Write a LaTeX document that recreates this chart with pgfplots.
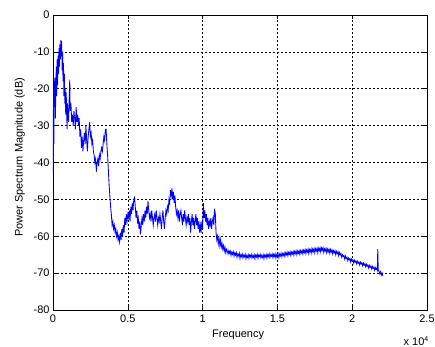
\documentclass[border=0pt]{standalone}
\usepackage{pgfplots}
\pgfplotsset{compat=1.18}
\usepackage{fontspec}
\setmainfont{Liberation Sans}
\begin{document}
\begin{tikzpicture}
\begin{axis}[
 width=374bp, height=295bp, scale only axis,
 xmin=0, xmax=25000, ymin=-80, ymax=0,
 scaled x ticks=false,
 xtick={0,5000,10000,15000,20000,25000},
 xticklabels={0,0.5,1,1.5,2,2.5},
 ytick={-80,-70,...,0},
 grid=major,
 major grid style={black, dash pattern=on 2bp off 2bp, line width=0.5bp},
 axis line style={black, line width=0.7bp},
 tick style={black, line width=0.5bp},
 major tick length=4bp,
 tick align=inside,
 ticklabel style={font=\fontsize{11}{13}\selectfont},
 xticklabel style={yshift=-1.5bp},
 /pgf/number format/assume math mode=true,
 xlabel={Frequency}, ylabel={Power Spectrum Magnitude (dB)},
 label style={font=\fontsize{11}{13}\selectfont},
 xlabel style={at={(axis description cs:0.495,-0.0847)}, anchor=center},
 ylabel style={at={(axis description cs:-0.0885,0.517)}, anchor=center},
]
\addplot[blue, line width=0.85bp] coordinates {
(0,-43)(20,-30)(40,-20)(60,-35)(80,-18)(100,-25)(130,-17)(160,-28)(190,-20)(220,-14)
(250,-22)(280,-12)(310,-19)(340,-11)(370,-16)(400,-9)(430,-14)(460,-8)(490,-12)(520,-6.8)
(550,-11)(580,-7)(610,-15)(640,-10)(670,-18)(700,-13)(730,-22)(760,-16)(790,-24)(820,-20)
(850,-27)(880,-21)(910,-25)(940,-31)(970,-24)(1000,-27)(1040,-29)(1080,-23)(1120,-17.5)(1150,-26)
(1200,-24)(1250,-29)(1300,-27)(1350,-30)(1400,-26)(1450,-28)(1500,-31)(1550,-25)(1600,-29)(1650,-27)
(1700,-30)(1750,-28)(1800,-33)(1850,-31)(1900,-36)(1950,-33)(2000,-37)(2050,-34)(2100,-32)(2150,-35)
(2200,-30)(2250,-34)(2300,-37)(2350,-33)(2400,-31)(2450,-29)(2500,-33)(2550,-32)(2600,-35)(2650,-34)
(2700,-37)(2750,-38)(2800,-40)(2850,-39)(2900,-42.5)(2950,-40)(3000,-39)(3050,-41)(3100,-38)(3150,-39)
(3200,-37)(3250,-36)(3300,-37)(3350,-35)(3400,-33)(3450,-34)(3500,-31)(3550,-31)(3600,-35)(3650,-38)
(3700,-42)(3750,-46)(3800,-49)(3850,-52)(3900,-54)(3950,-57)(4000,-56)(4050,-58)(4100,-57)(4150,-59)
(4200,-58)(4250,-60)(4300,-59)(4350,-61)(4400,-60)(4450,-61.5)(4500,-59)(4550,-61)(4600,-58)(4650,-60)
(4700,-57)(4750,-59)(4800,-55)(4850,-57)(4900,-54)(4950,-56)(5000,-54)(5050,-55)(5100,-53)(5150,-56)
(5200,-52)(5250,-54)(5300,-51)(5350,-53)(5400,-50)(5450,-49.5)(5500,-52)(5550,-55)(5600,-53)(5650,-56)
(5700,-55)(5750,-58)(5800,-56)(5850,-59.5)(5900,-57)(5950,-55)(6000,-57)(6050,-54)(6100,-56)(6150,-53)
(6200,-55)(6250,-52)(6300,-54)(6350,-50.5)(6400,-53)(6450,-55)(6500,-54)(6550,-56)(6600,-53)(6650,-55)
(6700,-57)(6750,-55)(6800,-54)(6850,-56)(6900,-53)(6950,-55)(7000,-57)(7050,-55)(7100,-56)(7150,-54)
(7200,-56)(7250,-58)(7300,-55)(7350,-53)(7400,-56)(7450,-58)(7500,-55)(7550,-53)(7600,-54)(7650,-52)
(7700,-53)(7750,-50)(7800,-51)(7850,-47.5)(7900,-49)(7950,-47)(8000,-50)(8050,-48)(8100,-51)(8150,-49)
(8200,-52)(8250,-54)(8300,-53)(8350,-55)(8400,-53)(8450,-56)(8500,-54)(8550,-53)(8600,-55)(8650,-57)
(8700,-54)(8750,-56)(8800,-53)(8850,-55)(8900,-57)(8950,-55)(9000,-56)(9050,-54)(9100,-57)(9150,-55)
(9200,-59)(9250,-56)(9300,-54)(9350,-57)(9400,-55)(9450,-58)(9500,-56)(9550,-54)(9600,-57)(9650,-55)
(9700,-58)(9750,-56)(9800,-59)(9850,-57)(9900,-59)(9950,-56)(10000,-58)(10050,-51)(10100,-55)(10150,-53)
(10200,-56)(10250,-54)(10300,-57)(10350,-55)(10400,-58)(10450,-56)(10500,-57)(10550,-55)(10600,-58)(10650,-56)
(10700,-55)(10750,-57)(10800,-52.5)(10850,-54)(10900,-59)(10950,-61)(11000,-60)(11050,-62)(11100,-60.5)(11150,-62.5)
(11200,-61)(11250,-63)(11300,-62)(11350,-63.5)(11400,-62.5)(11450,-64)(11500,-63)(11550,-64.5)(11600,-63.5)(11650,-64)
(11700,-64.8)(11750,-63.9)(11800,-64.6)(11850,-64)(11900,-65.2)(11950,-64.3)(12000,-64.9)(12050,-64.2)(12100,-65.4)(12150,-64.5)
(12200,-65.1)(12250,-64.4)(12300,-65.7)(12350,-64.8)(12400,-65.3)(12450,-64.6)(12500,-66)(12550,-65)(12600,-65.5)(12650,-64.8)
(12700,-65.9)(12750,-65.1)(12800,-65.6)(12850,-64.9)(12900,-66.1)(12950,-65.2)(13000,-65.7)(13050,-65)(13100,-66)(13150,-65.1)
(13200,-65.6)(13250,-64.9)(13300,-65.9)(13350,-65.2)(13400,-65.7)(13450,-65)(13500,-66.1)(13550,-65.1)(13600,-65.6)(13650,-64.9)
(13700,-66)(13750,-65.1)(13800,-65.5)(13850,-64.9)(13900,-65.9)(13950,-65.2)(14000,-65.7)(14050,-65)(14100,-66.1)(14150,-65.1)
(14200,-65.6)(14250,-64.9)(14300,-65.9)(14350,-65)(14400,-65.5)(14450,-64.8)(14500,-65.8)(14550,-65)(14600,-65.4)(14650,-64.8)
(14700,-65.8)(14750,-64.9)(14800,-65.5)(14850,-64.8)(14900,-65.9)(14950,-65)(15000,-65.5)(15050,-64.8)(15100,-65.8)(15150,-64.8)
(15200,-65.3)(15250,-64.6)(15300,-65.6)(15350,-64.7)(15400,-65.2)(15450,-64.5)(15500,-65.5)(15550,-64.5)(15600,-65)(15650,-64.3)
(15700,-65.3)(15750,-64.4)(15800,-64.9)(15850,-64.2)(15900,-65.2)(15950,-64.3)(16000,-64.8)(16050,-64.1)(16100,-65.1)(16150,-64.1)
(16200,-64.7)(16250,-64)(16300,-65)(16350,-64)(16400,-64.6)(16450,-63.9)(16500,-64.9)(16550,-63.9)(16600,-64.5)(16650,-63.8)
(16700,-64.8)(16750,-63.8)(16800,-64.4)(16850,-63.6)(16900,-64.7)(16950,-63.7)(17000,-64.3)(17050,-63.5)(17100,-64.7)(17150,-63.6)
(17200,-64.2)(17250,-63.4)(17300,-64.6)(17350,-63.5)(17400,-64.1)(17450,-63.3)(17500,-64.5)(17550,-63.4)(17600,-64)(17650,-63.2)
(17700,-64.4)(17750,-63.3)(17800,-63.9)(17850,-63.1)(17900,-64.3)(17950,-63.2)(18000,-63.8)(18050,-63.1)(18100,-64.4)(18150,-63.4)
(18200,-64)(18250,-63.3)(18300,-64.5)(18350,-63.5)(18400,-64.2)(18450,-63.5)(18500,-64.6)(18550,-63.6)(18600,-64.3)(18650,-63.7)
(18700,-64.8)(18750,-63.9)(18800,-64.5)(18850,-63.9)(18900,-65)(18950,-64.1)(19000,-64.7)(19050,-64.2)(19100,-65.3)(19150,-64.4)
(19200,-65)(19250,-64.7)(19300,-65.7)(19350,-65)(19400,-65.5)(19450,-65.2)(19500,-66.2)(19550,-65.4)(19600,-66)(19650,-65.7)
(19700,-66.6)(19750,-65.9)(19800,-66.4)(19850,-66.1)(19900,-67)(19950,-66.2)(20000,-66.7)(20050,-66.4)(20100,-67.3)(20150,-66.5)
(20200,-67)(20250,-66.7)(20300,-67.5)(20350,-66.8)(20400,-67.3)(20450,-67)(20500,-67.8)(20550,-67)(20600,-67.5)(20650,-67.2)
(20700,-68)(20750,-67.3)(20800,-67.8)(20850,-67.5)(20900,-68.3)(20950,-67.6)(21000,-68.1)(21050,-67.8)(21100,-68.6)(21150,-67.9)
(21200,-68.4)(21250,-68.1)(21300,-68.9)(21350,-68.2)(21400,-68.7)(21450,-68.4)(21500,-69.2)(21550,-68.5)(21600,-69)(21650,-68.6)
(21680,-69.1)(21710,-63.5)(21740,-69.2)(21800,-69.6)(21850,-70.2)(21900,-69.6)(21950,-70.5)(22000,-70)(22050,-70.8)
};
\end{axis}
\node[font=\fontsize{11}{13}\selectfont] at ([shift={(-11bp,-31bp)}]current axis.south east) {x 10\raisebox{0.7ex}{\fontsize{7}{8}\selectfont 4}};
\pgfresetboundingbox
\path ([shift={(-53bp,-37bp)}]current axis.south west) rectangle ([shift={(8bp,15bp)}]current axis.north east);
\end{tikzpicture}
\end{document}
